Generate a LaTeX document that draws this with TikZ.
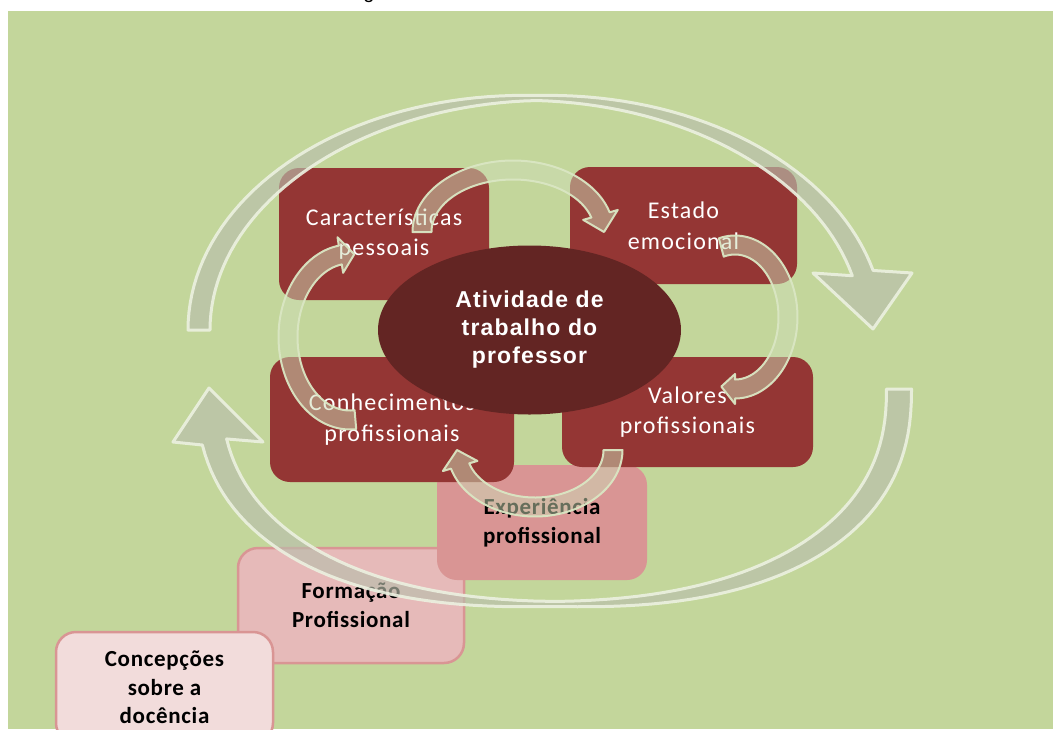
\documentclass[tikz,border=0pt]{standalone}
\usepackage{fontspec}
\setmainfont{Carlito}
\usetikzlibrary{shapes.geometric}
\newfontfamily\boxfont{Carlito}[LetterSpace=5]
\newfontfamily\lblfont{Carlito}[LetterSpace=3]
\newfontfamily\ctrfont{Liberation Sans}[LetterSpace=5]
\newfontfamily\capfont{Liberation Sans}
\definecolor{bggreen}{RGB}{195,214,155}
\definecolor{boxred}{RGB}{148,54,52}
\definecolor{ellred}{RGB}{99,37,35}
\definecolor{pinka}{RGB}{217,149,148}
\definecolor{pinkb}{RGB}{230,186,185}
\definecolor{pinkc}{RGB}{242,220,219}
\definecolor{bigline}{RGB}{236,241,224}
\definecolor{bigfill}{RGB}{185,190,172}
\definecolor{smline}{RGB}{218,230,195}
\definecolor{smfill}{RGB}{205,220,182}
\def\aex{1}\def\aw{10}\def\awm{10}\def\ah{18}
% curved block arrow along an (super)ellipse: cx cy rx ry t0 t1 t2
\newcommand{\carrow}[7]{%
 \path[arrowpaint] plot[domain=#5:#6,samples=80] ({#1+(#3+\awm+(\aw-\awm)*abs(cos(\x)))*cos(\x)*pow(abs(cos(\x))+0.0001,\aex-1)},{#2+(#4+\awm+(\aw-\awm)*abs(cos(\x)))*sin(\x)*pow(abs(sin(\x))+0.0001,\aex-1)})
  -- ({#1+(#3+\ah)*cos(#6)*pow(abs(cos(#6))+0.0001,\aex-1)},{#2+(#4+\ah)*sin(#6)*pow(abs(sin(#6))+0.0001,\aex-1)})
  -- ({#1+#3*cos(#7)*pow(abs(cos(#7))+0.0001,\aex-1)},{#2+#4*sin(#7)*pow(abs(sin(#7))+0.0001,\aex-1)})
  -- ({#1+(#3-\ah)*cos(#6)*pow(abs(cos(#6))+0.0001,\aex-1)},{#2+(#4-\ah)*sin(#6)*pow(abs(sin(#6))+0.0001,\aex-1)})
  -- plot[domain=#6:#5,samples=80] ({#1+(#3-\awm-(\aw-\awm)*abs(cos(\x)))*cos(\x)*pow(abs(cos(\x))+0.0001,\aex-1)},{#2+(#4-\awm-(\aw-\awm)*abs(cos(\x)))*sin(\x)*pow(abs(sin(\x))+0.0001,\aex-1)})
  -- cycle;}
% same, with the head given by two corners and a tip
\newcommand{\harrow}[9]{%
 \path[arrowpaint] plot[domain=#5:#6,samples=80] ({#1+(#3+\awm+(\aw-\awm)*abs(cos(\x)))*cos(\x)*pow(abs(cos(\x))+0.0001,\aex-1)},{#2+(#4+\awm+(\aw-\awm)*abs(cos(\x)))*sin(\x)*pow(abs(sin(\x))+0.0001,\aex-1)})
  -- (#7) -- (#8) -- (#9)
  -- plot[domain=#6:#5,samples=80] ({#1+(#3-\awm-(\aw-\awm)*abs(cos(\x)))*cos(\x)*pow(abs(cos(\x))+0.0001,\aex-1)},{#2+(#4-\awm-(\aw-\awm)*abs(cos(\x)))*sin(\x)*pow(abs(sin(\x))+0.0001,\aex-1)})
  -- cycle;}
\begin{document}
\begin{tikzpicture}[x=1pt,y=-1pt,
  redbox/.style={rectangle, rounded corners=20pt, fill=boxred, text=white, align=center, inner sep=0pt, font=\boxfont\fontsize{24}{30.5}\selectfont},
  pinkbox/.style={rectangle, rounded corners=20pt, align=center, inner sep=0pt, text=black, font=\lblfont\bfseries\fontsize{23}{29}\selectfont},
  pinkrim/.style={draw=pinka, line width=2.5pt},
  bigpaint/.style={draw=bigline, line width=3pt, fill=bigfill, fill opacity=0.65, draw opacity=0.9, line join=round},
  smallpaint/.style={draw=smline, line width=2pt, fill=smfill, fill opacity=0.5, draw opacity=0.95, line join=round}]
\useasboundingbox (0,0) rectangle (1053,729);
\fill[white] (0,0) rectangle (1053,729);
\fill[bggreen] (8,11) rectangle (1053,729);
\node[font=\capfont\fontsize{20}{24}\selectfont, anchor=base, inner sep=0pt] (cap) at (369,-2) {g};
% lower boxes
\node[pinkbox, pinkrim, fill=pinkb, minimum width=226pt, minimum height=115pt] (frm) at (351,605.5) {Formação\\Profissional};
\node[pinkbox, pinkrim, fill=pinkc, minimum width=217pt, minimum height=111pt, font=\lblfont\bfseries\fontsize{23}{28.5}\selectfont] (cpc) at (164.5,687.5) {Concepções\\sobre a\\docência};
\node[pinkbox, fill=pinka, minimum width=210pt, minimum height=115pt] (exp) at (542,522.5) {Experiência\\profissional};
% red boxes
\node[redbox, minimum width=210pt, minimum height=132pt] (car) at (384,234) {Características\\pessoais};
\node[redbox, minimum width=227pt, minimum height=117pt] (est) at (683.5,225.5) {Estado\\emocional};
\node[redbox, minimum width=244pt, minimum height=125pt] (con) at (392,419.5) {Conhecimentos\\profissionais};
\node[redbox, minimum width=251pt, minimum height=110pt] (val) at (687.5,412) {Valores\\profissionais};
\node[ellipse, fill=ellred, minimum width=303pt, minimum height=169pt, inner sep=0pt, text=white, align=center, font=\ctrfont\bfseries\fontsize{23}{28}\selectfont] (atv) at (529.5,330) {Atividade de\\trabalho do\\professor};
% big circular arrows
\begin{scope}[arrowpaint/.style=bigpaint]
 \def\aex{1}\def\aw{11}\def\awm{2.5}
 \harrow{536}{330}{337}{232}{180}{345.8}{912,273}{873,329}{813,273}
 \def\aex{0.85}\def\aw{12.5}\def\awm{2.5}
 \harrow{554}{389}{345}{215}{0}{168.9}{173,442}{209,388}{263,442}
\end{scope}
% small arrows around the centre
\begin{scope}[arrowpaint/.style=smallpaint]
 \def\aex{1}\def\aw{9.5}\def\awm{9.5}\def\ah{18}
 \carrow{513}{232}{91}{62}{180}{344}{360}
 \def\ah{15}
 \carrow{735}{317}{53}{72}{-105}{90}{105}
 \def\ah{18}
 \carrow{535}{450}{78}{57}{0}{163.7}{180}
 \carrow{350}{337}{62}{83}{85}{261}{274}
\end{scope}
\end{tikzpicture}
\end{document}
